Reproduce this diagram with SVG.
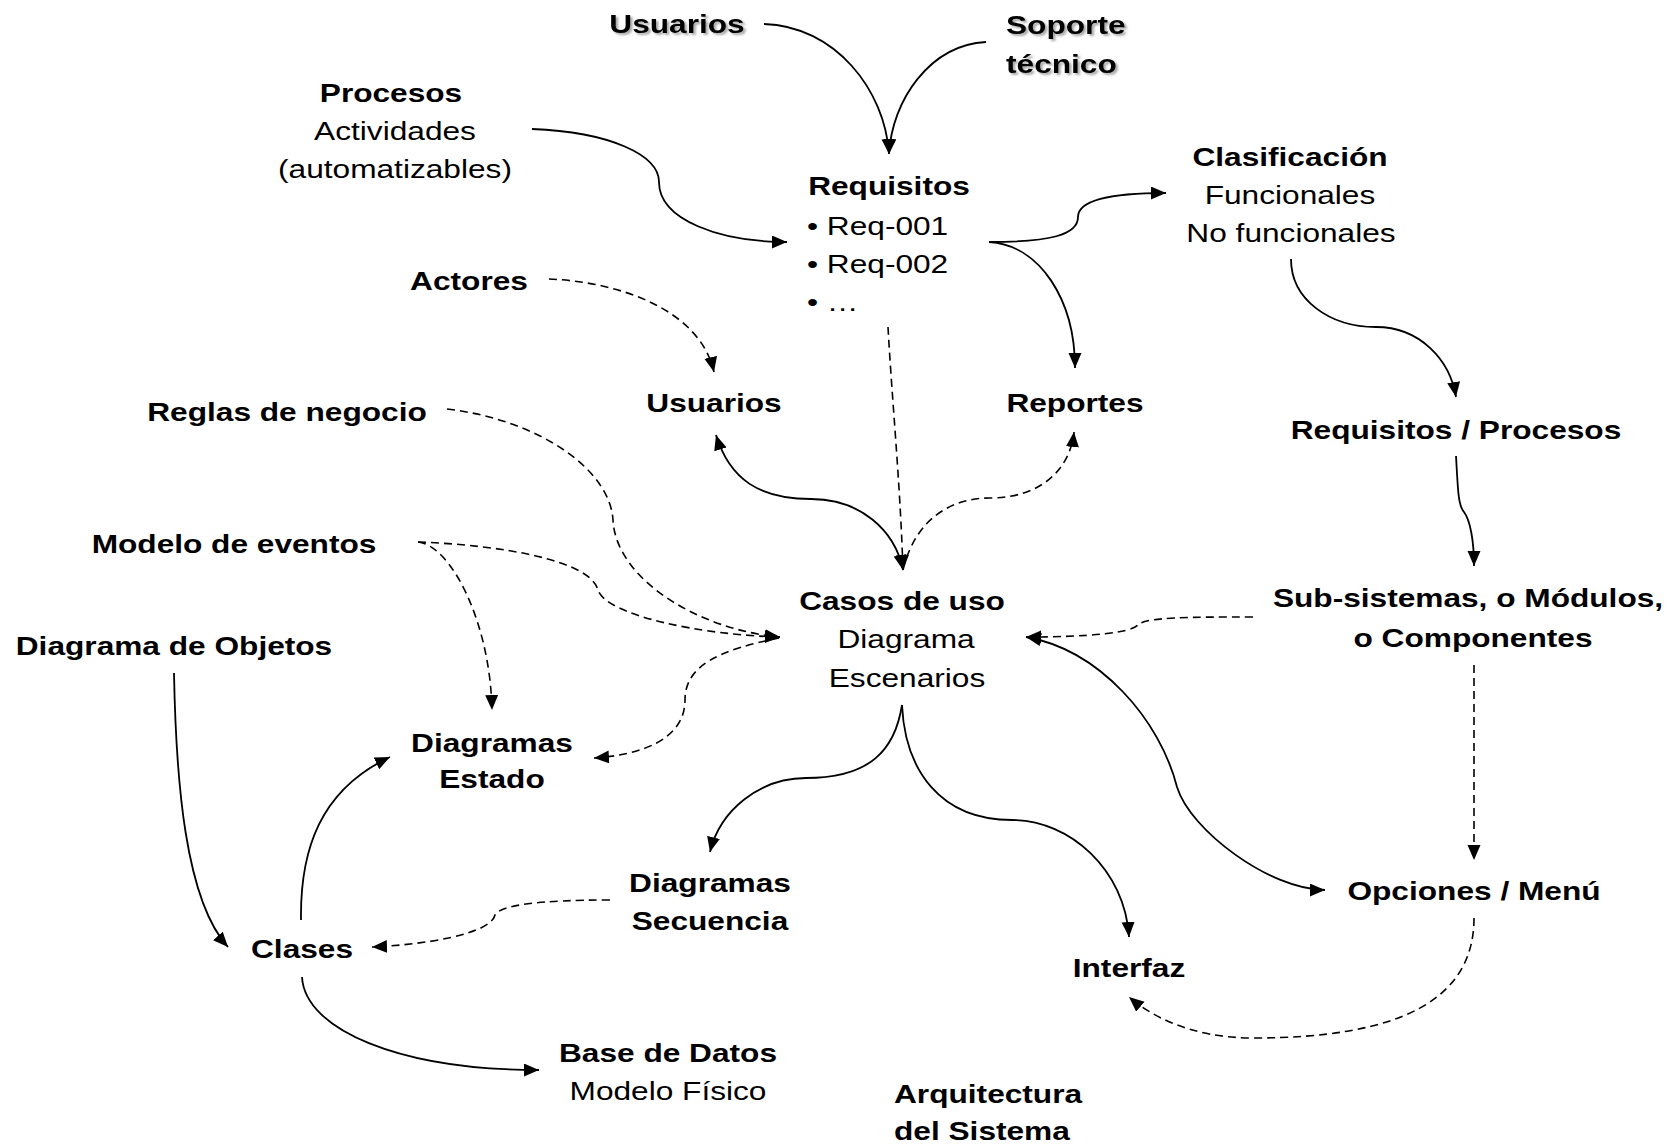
<svg xmlns="http://www.w3.org/2000/svg" width="1678" height="1145" viewBox="0 0 1678 1145">
<style>
text{font-family:"Liberation Sans",Arial,sans-serif;font-size:26.6px;fill:#000}
.b{font-weight:bold}
.c{text-anchor:middle}
.s{stroke:#000;stroke-width:1.8;fill:none}
.d{stroke:#000;stroke-width:1.6;fill:none;stroke-dasharray:8,5}
.e{marker-end:url(#ah)}
.se{marker-start:url(#ah);marker-end:url(#ah)}
.sh{filter:url(#shadow)}
</style>
<defs>
<marker id="ah" markerUnits="userSpaceOnUse" markerWidth="16" markerHeight="14" refX="15" refY="6.5" orient="auto-start-reverse">
<path d="M0,0 L15,6.5 L0,13 z" fill="#000"/>
</marker>
<filter id="shadow" x="-10%" y="-30%" width="130%" height="170%">
<feDropShadow dx="2" dy="2" stdDeviation="1" flood-color="#000" flood-opacity="0.35"/>
</filter>
</defs>
<rect width="1678" height="1145" fill="#fff"/>

<g id="connectors">
<path class="s e" d="M764,24 C835,26 885,90 889,154"/>
<path class="s e" d="M986,42 C930,45 892,100 889,154"/>
<path class="s e" d="M532,129 C610,132 659,155 659,182 C659,220 720,242 787,242"/>
<path class="s e" d="M989,242 C1050,242 1078,235 1078,217 C1078,200 1110,193 1166,193"/>
<path class="s e" d="M989,242 C1040,245 1075,300 1075,368"/>
<path class="s e" d="M1291,259 C1291,300 1330,327 1376,327 C1420,327 1450,360 1456,397"/>
<path class="s e" d="M1456,456 C1458,490 1458,505 1464,512 C1470,520 1474,540 1474,566"/>
<path class="d e" d="M1253,617 C1190,617 1145,617 1138,625 C1130,633 1090,637 1026,637"/>
<path class="s se" d="M1026,637 C1100,650 1160,720 1177,787 C1190,830 1270,890 1325,890"/>
<path class="d e" d="M1474,665 L1474,860"/>
<path class="d e" d="M1474,918 C1474,1000 1400,1038 1253,1038 C1190,1038 1150,1015 1129,997"/>
<path class="s e" d="M902,705 C895,750 870,778 806,778 C760,778 720,810 710,852"/>
<path class="s e" d="M902,705 C905,770 940,820 1012,820 C1070,820 1125,870 1129,937"/>
<path class="d e" d="M888,327 C892,400 900,480 903,570"/>
<path class="s se" d="M716,435 C730,480 760,499 811,499 C860,499 895,530 903,570"/>
<path class="d e" d="M903,570 C915,520 950,498 990,498 C1040,498 1070,470 1074,432"/>
<path class="d e" d="M549,279 C620,282 700,310 714,372"/>
<path class="d e" d="M447,409 C540,420 610,470 613,520 C616,580 700,630 780,637"/>
<path class="d e" d="M418,542 C500,545 590,560 598,590 C606,615 700,635 780,637"/>
<path class="d e" d="M418,542 C450,545 490,620 492,710"/>
<path class="d e" d="M779,638 C720,650 685,665 685,700 C685,740 640,755 594,758"/>
<path class="s e" d="M174,673 C176,780 185,900 228,947"/>
<path class="s e" d="M301,920 C300,850 320,790 390,757"/>
<path class="d e" d="M610,900 C540,900 500,905 495,915 C490,935 420,945 372,947"/>
<path class="s e" d="M302,977 C305,1030 400,1070 539,1070"/>
</g>

<g id="usuarios-top"><text class="b c sh" transform="translate(677,33) scale(1.19,1)">Usuarios</text></g>
<g id="soporte"><text class="b sh" transform="translate(1006,34) scale(1.19,1)">Soporte</text><text class="b sh" transform="translate(1006,73) scale(1.19,1)">técnico</text></g>
<g id="procesos"><text class="b c" transform="translate(391,102) scale(1.19,1)">Procesos</text><text class="c" transform="translate(395,140) scale(1.19,1)">Actividades</text><text class="c" transform="translate(395,178) scale(1.19,1)">(automatizables)</text></g>
<g id="requisitos"><text class="b c" transform="translate(889,195) scale(1.19,1)">Requisitos</text><text transform="translate(807,235) scale(1.19,1)">• Req-001</text><text transform="translate(807,273) scale(1.19,1)">• Req-002</text><text transform="translate(807,311) scale(1.19,1)">• …</text></g>
<g id="clasificacion"><text class="b c" transform="translate(1290,166) scale(1.19,1)">Clasificación</text><text class="c" transform="translate(1290,204) scale(1.19,1)">Funcionales</text><text class="c" transform="translate(1291,242) scale(1.19,1)">No funcionales</text></g>
<g id="actores"><text class="b c" transform="translate(469,290) scale(1.19,1)">Actores</text></g>
<g id="usuarios"><text class="b c" transform="translate(714,412) scale(1.19,1)">Usuarios</text></g>
<g id="reportes"><text class="b c" transform="translate(1075,412) scale(1.19,1)">Reportes</text></g>
<g id="reglas"><text class="b c" transform="translate(287,421) scale(1.19,1)">Reglas de negocio</text></g>
<g id="req-procesos"><text class="b c" transform="translate(1456,439) scale(1.19,1)">Requisitos / Procesos</text></g>
<g id="modelo-eventos"><text class="b c" transform="translate(234,553) scale(1.19,1)">Modelo de eventos</text></g>
<g id="casos"><text class="b c" transform="translate(902,610) scale(1.19,1)">Casos de uso</text><text class="c" transform="translate(906,648) scale(1.19,1)">Diagrama</text><text class="c" transform="translate(907,687) scale(1.19,1)">Escenarios</text></g>
<g id="subsistemas"><text class="b c" transform="translate(1468,607) scale(1.19,1)">Sub-sistemas, o Módulos,</text><text class="b c" transform="translate(1473,647) scale(1.19,1)">o Componentes</text></g>
<g id="objetos"><text class="b c" transform="translate(174,655) scale(1.19,1)">Diagrama de Objetos</text></g>
<g id="estado"><text class="b c" transform="translate(492,752) scale(1.19,1)">Diagramas</text><text class="b c" transform="translate(492,788) scale(1.19,1)">Estado</text></g>
<g id="secuencia"><text class="b c" transform="translate(710,892) scale(1.19,1)">Diagramas</text><text class="b c" transform="translate(710,930) scale(1.19,1)">Secuencia</text></g>
<g id="opciones"><text class="b c" transform="translate(1474,900) scale(1.19,1)">Opciones / Menú</text></g>
<g id="interfaz"><text class="b c" transform="translate(1129,977) scale(1.19,1)">Interfaz</text></g>
<g id="clases"><text class="b c" transform="translate(302,958) scale(1.19,1)">Clases</text></g>
<g id="basedatos"><text class="b c" transform="translate(668,1062) scale(1.19,1)">Base de Datos</text><text class="c" transform="translate(668,1100) scale(1.19,1)">Modelo Físico</text></g>
<g id="arquitectura"><text class="b" transform="translate(894,1103) scale(1.19,1)">Arquitectura</text><text class="b" transform="translate(894,1140) scale(1.19,1)">del Sistema</text></g>
</svg>
